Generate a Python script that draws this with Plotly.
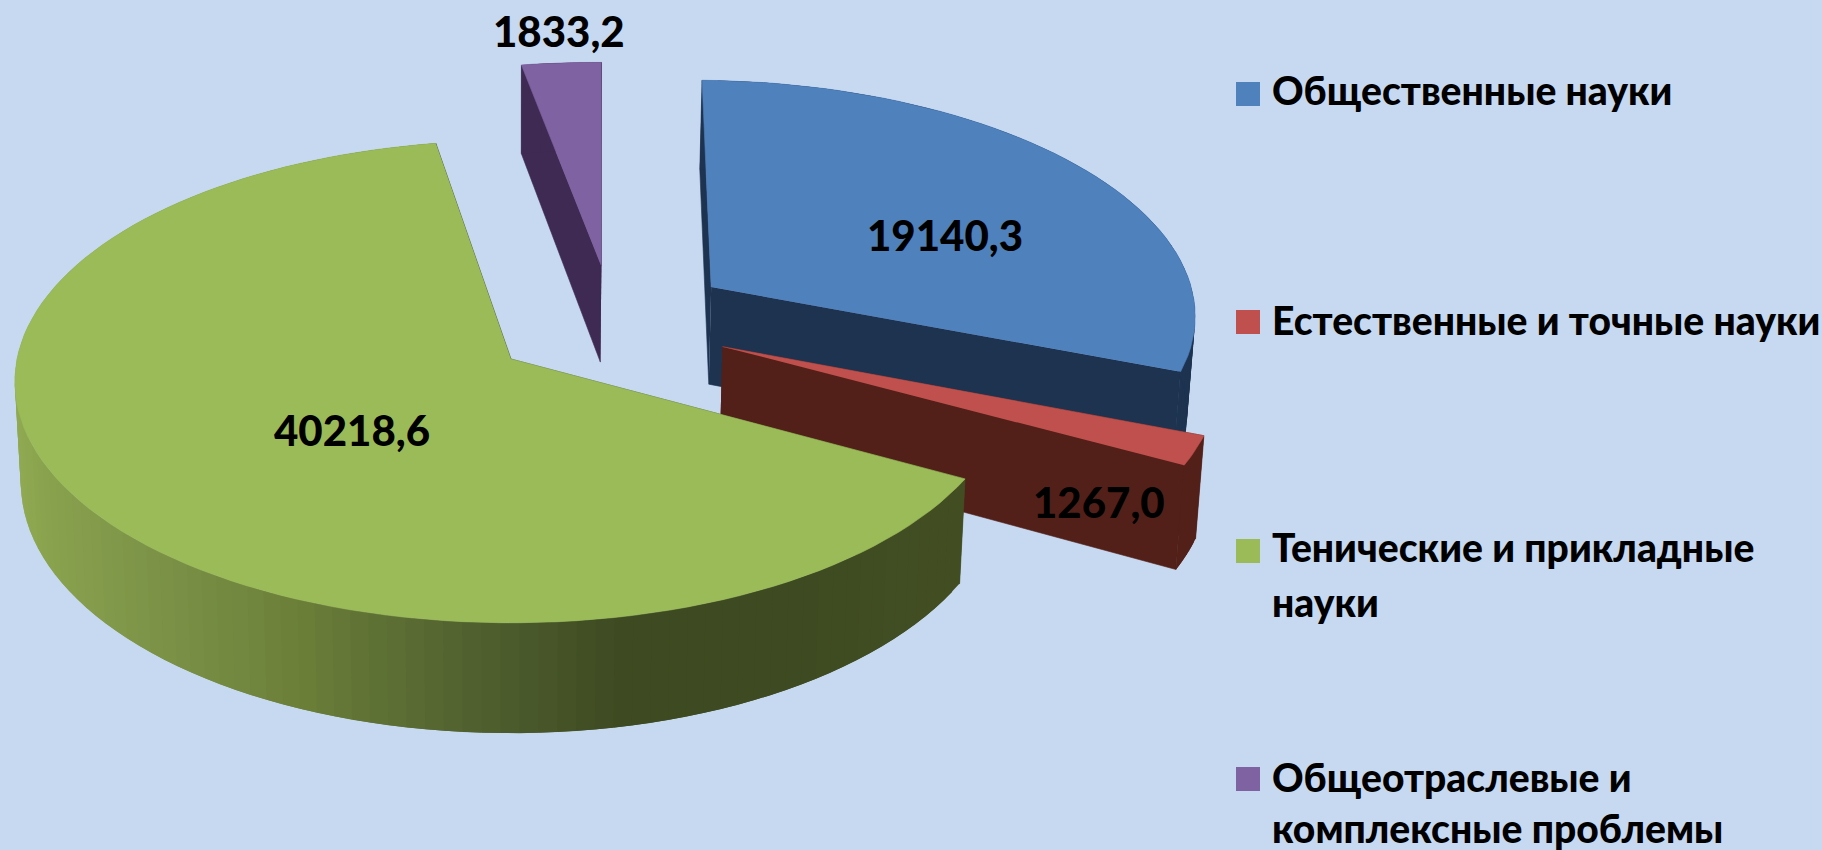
import numpy as np
import plotly.graph_objects as go

# ---- data ----
categories = ["Общественные науки", "Естественные и точные науки",
              "Тенические и прикладные науки", "Общеотраслевые и комплексные проблемы"]
values = [19140.3, 1267.0, 40218.6, 1833.2]
legend_lines = [["Общественные науки"], ["Естественные и точные науки"],
                ["Тенические и прикладные", "науки"], ["Общеотраслевые и", "комплексные проблемы"]]

# ---- styling / geometry ----
W, H = 1822, 850
BG = "#C6D9F1"
FONT = "Lato"
CX, CY, RX, RY, K = 511, 359, 494, 239, 0.094
DEPTH, SHRINK = 100, 0.988
START = 1.0
explode = [(0.417, 0.31), (0.43, 0.052), (0.0, 0.0), (0.19, 0.405)]
top_cols = ["#4F81BD", "#C0504D", "#9BBB59", "#7F62A1"]
cut_cols = ["#1D3350", "#532019", "#3F4C22", "#3F2A53"]
label_pos = [(945, 235), (1099, 502), (352, 430), (559, 31)]
legend_sq_y = [94, 322, 551, 779]
legend_txt_y = [[90], [320], [547, 602], [777, 828]]
green_stops_x = [16, 60, 190, 320, 480, 640, 800, 960]
green_stops_c = [(146, 172, 84), (137, 162, 78), (122, 145, 70), (107, 127, 57),
                 (82, 99, 48), (62, 74, 34), (62, 74, 33), (67, 79, 35)]


def project(u, v, lower=False):
    u, v = np.asarray(u, float), np.asarray(v, float)
    w = 1 + K * v
    x = CX + RX * u / w
    y = CY - RY * v / w
    if lower:
        x = CX + (x - CX) * SHRINK
        y = y + DEPTH / w
    return x, y


def poly(fig, xs, ys, color, lw=0.6):
    fig.add_trace(go.Scatter(x=list(xs), y=list(ys), mode="lines", fill="toself",
                             fillcolor=color, line=dict(color=color, width=lw),
                             hoverinfo="skip", showlegend=False))


fig = go.Figure()
total = sum(values)
edges = START + np.cumsum([0] + values) / total * 360
order = [3, 0, 1, 2]

for i in order:
    a0, a1 = np.radians(edges[i]), np.radians(edges[i + 1])
    ou, ov = explode[i]
    n = max(8, int((a1 - a0) / np.radians(2)))
    t = np.linspace(a0, a1, n + 1)
    u, v = ou + np.sin(t), ov + np.cos(t)
    xt, yt = project(u, v)
    xb, yb = project(u, v, lower=True)
    vx, vy = project(ou, ov)
    vxb, vyb = project(ou, ov, lower=True)
    # cut faces
    poly(fig, [vx, xt[0], xb[0], vxb], [vy, yt[0], yb[0], vyb], cut_cols[i])
    poly(fig, [vx, xt[-1], xb[-1], vxb], [vy, yt[-1], yb[-1], vyb], cut_cols[i])
    # outer wall: painted from the rim's end backwards, each band overlapping the next
    for j in range(n - 1, -1, -1):
        if i == 2:
            mx = (xb[j] + xb[j + 1]) / 2
            c = [np.interp(mx, green_stops_x, [s[k] for s in green_stops_c]) for k in range(3)]
            col = "rgb(%d,%d,%d)" % tuple(c)
        else:
            col = cut_cols[i]
        e = min(j + 2, n)
        poly(fig, np.r_[xt[j:e + 1], xb[j:e + 1][::-1]], np.r_[yt[j:e + 1], yb[j:e + 1][::-1]], col, lw=0)
    # top face
    poly(fig, np.r_[vx, xt], np.r_[vy, yt], top_cols[i])

# legend squares
fig.add_trace(go.Scatter(x=[1248] * 4, y=legend_sq_y, mode="markers",
                         marker=dict(symbol="square", size=24, color=top_cols, line=dict(width=0)),
                         hoverinfo="skip", showlegend=False))

ann = []
for v, (x, y) in zip(values, label_pos):
    ann.append(dict(x=x, y=y, text=f"{v:.1f}".replace(".", ","), showarrow=False,
                    font=dict(family=FONT, size=42, color="black", weight=900),
                    xanchor="center", yanchor="middle"))
for lines, ys in zip(legend_lines, legend_txt_y):
    for line, y in zip(lines, ys):
        ann.append(dict(x=1270, y=y, text=line, showarrow=False,
                        font=dict(family=FONT, size=39, color="black", weight=900),
                        xanchor="left", yanchor="middle"))

fig.update_layout(width=W, height=H, margin=dict(l=0, r=0, t=0, b=0),
                  paper_bgcolor=BG, plot_bgcolor=BG, showlegend=False, annotations=ann,
                  xaxis=dict(range=[0, W], visible=False, fixedrange=True),
                  yaxis=dict(range=[H, 0], visible=False, fixedrange=True))
fig.write_html("out.html", config={"displayModeBar": False}, post_script=(
    "document.body.style.margin='0';"
    "document.documentElement.style.overflow='hidden';"
    "document.body.style.background='%s';" % BG))
